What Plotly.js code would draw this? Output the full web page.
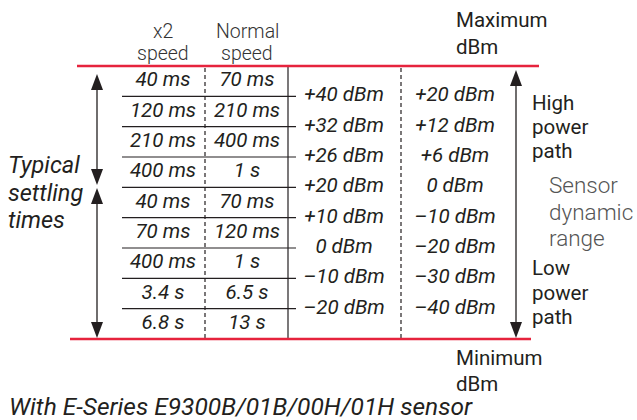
<!DOCTYPE html>
<html>
<head>
<meta charset="utf-8">
<script src="https://cdn.plot.ly/plotly-3.0.1.min.js"></script>
<style>html,body{margin:0;padding:0;background:#fff}#c{width:637px;height:420px}</style>
</head>
<body>
<div id="c"></div>
<script>
// ---- data ----
const x2Speed = ['40 ms','120 ms','210 ms','400 ms','40 ms','70 ms','400 ms','3.4 s','6.8 s'];
const normalSpeed = ['70 ms','210 ms','400 ms','1 s','70 ms','120 ms','1 s','6.5 s','13 s'];
const maxDbm = ['+40 dBm','+32 dBm','+26 dBm','+20 dBm','+10 dBm','0 dBm','–10 dBm','–20 dBm'];
const sensorDbm = ['+20 dBm','+12 dBm','+6 dBm','0 dBm','–10 dBm','–20 dBm','–30 dBm','–40 dBm'];
const highLabel = ['High','power','path'];
const lowLabel = ['Low','power','path'];
const sensorLabel = ['Sensor','dynamic','range'];
const leftLabel = ['Typical','settling','times'];
const caption = 'With E-Series E9300B/01B/00H/01H sensor';

// ---- layout geometry ----
const TOP = 66, BOT = 339, N = x2Speed.length, ROW = (BOT - TOP) / N;
const COL_X2 = 163, COL_NORM = 247, DASH1 = 205, SOLID = 288;
const COL_MAX = 344, DASH2 = 401, COL_SENS = 455;
const INK = '#231f20', RED = '#e6233d';
const rowCenter = i => TOP + ROW * (i + 0.5);
const rowLine = i => TOP + ROW * (i + 1);

const tableFont = {family: 'Roboto, sans-serif', size: 20.5, color: INK, style: 'italic'};

const traces = [
  {type: 'scatter', mode: 'text', x: x2Speed.map(() => COL_X2), y: x2Speed.map((_, i) => rowCenter(i)),
   text: x2Speed, textposition: 'middle center', textfont: tableFont, hoverinfo: 'skip', showlegend: false},
  {type: 'scatter', mode: 'text', x: normalSpeed.map(() => COL_NORM), y: normalSpeed.map((_, i) => rowCenter(i)),
   text: normalSpeed, textposition: 'middle center', textfont: tableFont, hoverinfo: 'skip', showlegend: false},
  {type: 'scatter', mode: 'text', x: maxDbm.map(() => COL_MAX), y: maxDbm.map((_, i) => rowLine(i)),
   text: maxDbm, textposition: 'middle center', textfont: tableFont, hoverinfo: 'skip', showlegend: false},
  {type: 'scatter', mode: 'text', x: sensorDbm.map(() => COL_SENS), y: sensorDbm.map((_, i) => rowLine(i)),
   text: sensorDbm, textposition: 'middle center', textfont: tableFont, hoverinfo: 'skip', showlegend: false}
];

const shapes = [];
const line = (x0, y0, x1, y1, color, width, dash) =>
  shapes.push({type: 'line', xref: 'x', yref: 'y', x0, y0, x1, y1, line: {color, width, dash: dash || 'solid'}});
const head = (x, tip, base) =>
  shapes.push({type: 'path', xref: 'x', yref: 'y', path: `M ${x-6},${base} L ${x},${tip} L ${x+6},${base} Z`,
               fillcolor: INK, line: {width: 0}});

// row separators
for (let i = 0; i < N - 1; i++) line(122, rowLine(i), 296, rowLine(i), INK, 1.2);
// verticals
line(DASH1, TOP + 2, DASH1, BOT, INK, 1.2, '4px,3px');
line(SOLID, TOP + 1, SOLID, BOT, INK, 1.2);
line(DASH2, TOP + 2, DASH2, BOT, INK, 1.2, '4px,3px');
// red limits
line(77, TOP, 539, TOP, RED, 2.5);
line(70, BOT, 531, BOT, RED, 2.5);
// left arrows
line(97, 88, 97, 170, INK, 1.3); head(97, 74, 90); head(97, 185, 169);
line(97, 203, 97, 323, INK, 1.3); head(97, 188, 204); head(97, 338, 322);
// right arrow
line(516, 85, 516, 323, INK, 1.3); head(516, 70, 86); head(516, 338, 322);

const annotations = [];
const ann = (text, x, y, font, xanchor) => annotations.push({text, x, y, xref: 'x', yref: 'y', showarrow: false,
  xanchor: xanchor || 'left', yanchor: 'middle', font, borderpad: 0});
const lightFont = {family: 'Roboto, sans-serif', size: 19.5, color: '#333', weight: 300};
ann('x2', COL_X2, 31, lightFont, 'center'); ann('speed', COL_X2, 53.5, lightFont, 'center');
ann('Normal', COL_NORM, 31, lightFont, 'center'); ann('speed', COL_NORM, 53.5, lightFont, 'center');
const plainFont = {family: 'Roboto, sans-serif', size: 20.5, color: INK, weight: 400};
ann('Maximum', 455, 20, plainFont); ann('dBm', 455, 47, plainFont);
ann('Minimum', 455, 358, plainFont); ann('dBm', 455, 384, plainFont);
[103, 127, 151].forEach((y, i) => ann(highLabel[i], 531, y, plainFont));
[268, 293, 317].forEach((y, i) => ann(lowLabel[i], 531, y, plainFont));
const grayFont = {family: 'Roboto, sans-serif', size: 22.5, color: '#555', weight: 300};
[185, 212, 238].forEach((y, i) => ann(sensorLabel[i], 548, y, grayFont));
const italicBig = {family: 'Roboto, sans-serif', size: 23.5, color: INK, style: 'italic'};
[165, 193, 220].forEach((y, i) => ann(leftLabel[i], 7, y, italicBig));
ann(caption, 8, 406, {family: 'Roboto, sans-serif', size: 24.5, color: INK, style: 'italic'});

const layout = {
  width: 637, height: 420, margin: {l: 0, r: 0, t: 0, b: 0},
  paper_bgcolor: '#fff', plot_bgcolor: '#fff', showlegend: false,
  xaxis: {range: [0, 637], visible: false, fixedrange: true},
  yaxis: {range: [420, 0], visible: false, fixedrange: true},
  shapes, annotations
};
Plotly.newPlot('c', traces, layout, {staticPlot: true, displayModeBar: false});
</script>
</body>
</html>
